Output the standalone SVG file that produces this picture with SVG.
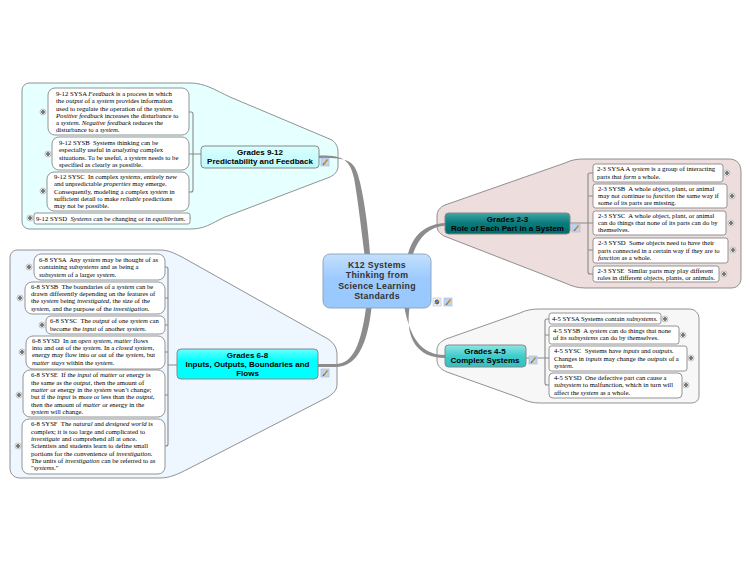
<svg xmlns="http://www.w3.org/2000/svg" xmlns:xlink="http://www.w3.org/1999/xlink" width="750" height="563" viewBox="0 0 750 563">
<style>
text{font-family:"Liberation Serif","Times New Roman",serif;font-size:6.7px;fill:#000;white-space:pre}
.i{font-style:italic}
.h{font-family:"Liberation Sans",Arial,sans-serif;font-size:8px;font-weight:bold;text-anchor:middle;fill:#000}
.c{font-family:"Liberation Sans",Arial,sans-serif;font-size:8.8px;font-weight:bold;text-anchor:middle;fill:#333;letter-spacing:.3px}
.b{stroke:#777;stroke-width:.8}
.n{fill:#fff;stroke:#888;stroke-width:.9}
.s{fill:none;stroke:#8a8a8a;stroke-width:1.1}
.m{fill:#8c8c8c}
.hn{stroke:#888;stroke-width:1}
</style>
<defs>
<linearGradient id="gc" x1="0" y1="0" x2="0" y2="1"><stop offset="0" stop-color="#c4e0fd"/><stop offset=".45" stop-color="#9ccaff"/><stop offset="1" stop-color="#98c8fc"/></linearGradient>
<linearGradient id="g9" x1="0" y1="0" x2="0" y2="1"><stop offset="0" stop-color="#d8ffff"/><stop offset="1" stop-color="#bdfafa"/></linearGradient>
<linearGradient id="g6" x1="0" y1="0" x2="0" y2="1"><stop offset="0" stop-color="#66ffff"/><stop offset=".4" stop-color="#00ffff"/><stop offset="1" stop-color="#00ffff"/></linearGradient>
<linearGradient id="g2" x1="0" y1="0" x2="0" y2="1"><stop offset="0" stop-color="#3fa5a5"/><stop offset=".5" stop-color="#0a7a7a"/><stop offset="1" stop-color="#006b6b"/></linearGradient>
<linearGradient id="g4" x1="0" y1="0" x2="0" y2="1"><stop offset="0" stop-color="#8fe6e6"/><stop offset=".5" stop-color="#40cccc"/><stop offset="1" stop-color="#33bfbf"/></linearGradient>
<g id="plus"><circle r="3" fill="#fff" stroke="#999" stroke-width=".6"/><circle r="1.700" fill="#111"/><path d="M-1.100 0H1.100M0-1.100V1.100" stroke="#fff" stroke-width=".5"/></g>
<g id="note"><rect x="-4" y="-4" width="8" height="8" fill="#bcd6f2" stroke="#9db8d8" stroke-width=".6"/><path d="M-1.500 2.500L2.500-2.500" stroke="#c8862a" stroke-width="1.500"/><path d="M-2 3L-1.300 1.600" stroke="#333" stroke-width=".7"/></g>
<g id="link"><rect x="-4" y="-4" width="8" height="8" fill="#f3f3f3" stroke="#bbb" stroke-width=".6"/><circle r="2.400" fill="#2a6fc4"/><path d="M-2.600 1.800L2.400-2" stroke="#e0a020" stroke-width="1"/></g>
</defs>

<g id="boundaries">
<path class="b" fill="#e6ffff" d="M30 83H190C205 83 215 90 230 97L332 140C336 143 338 147 338 152V166C338 172 334 175 330 177L225 217C210 224 205 229 190 229H30C25 229 22 226 22 221V91C22 86 25 83 30 83Z"/>
<path class="b" fill="#eef7ff" d="M18 250H160C168 250 174 253 182 257L328 339C334 343 337 348 337 355V384C337 390 334 393 328 397L188 469C178 474 170 478 160 478H20C14 478 10 474 10 468V258C10 253 13 250 18 250Z"/>
<path class="b" fill="#eedddd" d="M583 159H729C737 159 741 164 741 172V278C741 284 737 288 731 288H585C577 288 572 286 565 283L444 236C439 233 437 230 437 226V216C437 211 440 207 445 205L565 163C571 160 577 159 583 159Z"/>
<path class="b" fill="#f7f7f7" d="M540 309H689C695 309 699 313 699 319V396C699 400 696 403 691 403H540C532 403 526 401 520 398L447 372C440 369 437 365 437 360V350C437 345 440 342 446 339L520 313C526 310 532 309 540 309Z"/>
</g>

<g id="connectors">
<path class="m" d="M319 155.500C343 155 350 160 354 178C358 200 362 235 364.500 254L370 254C368 228 364 195 358 175C353 158 343 158 319 158Z"/>
<path class="m" d="M570 222.200L445 223C428 224 414 232 408 254L413 254C419 236 430 227 445 225.500L570 224.500Z"/>
<path class="m" d="M318 364H337C353 363 361 344 366 308L371.500 308C367 347 356 366 337 367H318Z"/>
<path class="m" d="M404.500 308C410 336 420 355 445 355V358C417 358 405 338 409.500 308Z"/>
<path class="s" d="M189 112H191Q193 112 193 114V190Q193 192 191 192H189M189 154H201M190 218H191"/>
<path class="s" d="M165 267H166Q168 267 168 269V444Q168 446 166 446H165M165 298H168M165 325H168M165 352H168M165 395H168M168 365H177"/>
<path class="s" d="M593 173H590Q588 173 588 175V272Q588 274 590 274H593M588 196H593M570 223H593M588 250H593"/>
<path class="s" d="M549 319H547Q545 319 545 321V383Q545 385 547 385H549M545 335H549M526 358H549"/>
</g>

<g id="root">
<rect x="323" y="254" width="108" height="54" rx="7" fill="url(#gc)" stroke="#8ba0b8" stroke-width=".9"/>
<text class="c"><tspan x="377" y="268">K12 Systems</tspan><tspan x="377" y="278.300">Thinking from</tspan><tspan x="377" y="288.500">Science Learning</tspan><tspan x="377" y="298.800">Standards</tspan></text>
<use href="#link" x="437" y="302"/><use href="#note" x="448" y="302"/>
</g>

<g id="grades912">
<rect x="201" y="146" width="118" height="22" rx="3.500" fill="url(#g9)" class="hn"/>
<text class="h"><tspan x="260" y="155">Grades 9-12</tspan><tspan x="260" y="164">Predictability and Feedback</tspan></text>
<use href="#note" x="325" y="162"/>
</g>
<g id="s912a"><rect class="n" x="48" y="88" width="141" height="47" rx="7"/><use href="#plus" x="43" y="112"/>
<text x="56" y="95.500">9-12 SYSA <tspan class="i">Feedback</tspan> is a process in which</text>
<text x="56" y="103">the <tspan class="i">output</tspan> of a <tspan class="i">system</tspan> provides information</text>
<text x="56" y="110.500">used to regulate the operation of the <tspan class="i">system.</tspan></text>
<text x="56" y="117.500"><tspan class="i">Positive feedback</tspan> increases the disturbance to</text>
<text x="56" y="125">a <tspan class="i">system. Negative feedback</tspan> reduces the</text>
<text x="56" y="132">disturbance to a <tspan class="i">system.</tspan></text></g>
<g id="s912b"><rect class="n" x="52" y="137" width="137" height="33" rx="7"/><use href="#plus" x="48" y="154"/>
<text x="59" y="145">9-12 SYSB  Systems thinking can be</text>
<text x="59" y="152">especially useful in <tspan class="i">analyzing</tspan> complex</text>
<text x="59" y="159.500">situations. To be useful, a <tspan class="i">system</tspan> needs to be</text>
<text x="59" y="167">specified as clearly as possible.</text></g>
<g id="s912c"><rect class="n" x="47" y="172" width="142" height="39" rx="7"/><use href="#plus" x="43" y="191"/>
<text x="54" y="178.500">9-12 SYSC  In complex <tspan class="i">systems</tspan>, entirely new</text>
<text x="54" y="186">and unpredictable <tspan class="i">properties</tspan> may emerge.</text>
<text x="54" y="193.500">Consequently, modeling a complex <tspan class="i">system</tspan> in</text>
<text x="54" y="201">sufficient detail to make <tspan class="i">reliable</tspan> predictions</text>
<text x="54" y="208">may not be possible.</text></g>
<g id="s912d"><rect class="n" x="34" y="213" width="156" height="11" rx="2"/><use href="#plus" x="30" y="218"/>
<text x="36" y="220.500">9-12 SYSD  <tspan class="i">Systems</tspan> can be changing or in <tspan class="i">equilibrium.</tspan></text></g>

<g id="grades68">
<rect x="177" y="349" width="141" height="30" rx="4" fill="url(#g6)" class="hn"/>
<text class="h"><tspan x="247.500" y="358">Grades 6-8</tspan><tspan x="247.500" y="366.500">Inputs, Outputs, Boundaries and</tspan><tspan x="247.500" y="375.500">Flows</tspan></text>
<use href="#note" x="325" y="373"/>
</g>
<g id="s68a"><rect class="n" x="34" y="254" width="131" height="26" rx="7"/><use href="#plus" x="29" y="267"/>
<text x="39" y="261.500">6-8 SYSA  Any <tspan class="i">system</tspan> may be thought of as</text>
<text x="39" y="269">containing <tspan class="i">subsystems</tspan> and as being a</text>
<text x="39" y="276.500"><tspan class="i">subsystem</tspan> of a larger <tspan class="i">system.</tspan></text></g>
<g id="s68b"><rect class="n" x="25" y="282" width="140" height="32" rx="7"/><use href="#plus" x="20" y="298"/>
<text x="31" y="288.500">6-8 SYSB  The boundaries of a <tspan class="i">system</tspan> can be</text>
<text x="31" y="296">drawn differently depending on the features of</text>
<text x="31" y="303">the <tspan class="i">system</tspan> being <tspan class="i">investigated,</tspan> the size of the</text>
<text x="31" y="310.500"><tspan class="i">system</tspan>, and the purpose of the <tspan class="i">investigation.</tspan></text></g>
<g id="s68c"><rect class="n" x="46" y="316" width="119" height="18" rx="5"/><use href="#plus" x="42" y="325"/>
<text x="50" y="323">6-8 SYSC  The <tspan class="i">output</tspan> of one <tspan class="i">system</tspan> can</text>
<text x="50" y="330.500">become the <tspan class="i">input</tspan> of another <tspan class="i">system.</tspan></text></g>
<g id="s68d"><rect class="n" x="26" y="336" width="139" height="33" rx="7"/><use href="#plus" x="22" y="352"/>
<text x="32" y="342.500">6-8 SYSD  In an <tspan class="i">open system, matter</tspan> flows</text>
<text x="32" y="350">into and out of the <tspan class="i">system.</tspan> In a <tspan class="i">closed system,</tspan></text>
<text x="32" y="357">energy may flow into or out of the <tspan class="i">system</tspan>, but</text>
<text x="32" y="364.500"><tspan class="i">matter stays</tspan> within the <tspan class="i">system.</tspan></text></g>
<g id="s68e"><rect class="n" x="23" y="370" width="142" height="47" rx="7"/><use href="#plus" x="19" y="395"/>
<text x="31" y="377">6-8 SYSE  If the <tspan class="i">input</tspan> of <tspan class="i">matter</tspan> or energy is</text>
<text x="31" y="384.500">the same as the <tspan class="i">output,</tspan> then the amount of</text>
<text x="31" y="392"><tspan class="i">matter</tspan> or energy in the <tspan class="i">system</tspan> won’t change;</text>
<text x="31" y="399">but if the <tspan class="i">input</tspan> is more or less than the <tspan class="i">output,</tspan></text>
<text x="31" y="406.500">then the amount of <tspan class="i">matter</tspan> or energy in the</text>
<text x="31" y="414"><tspan class="i">system</tspan> will change.</text></g>
<g id="s68f"><rect class="n" x="22" y="419" width="143" height="55" rx="7"/><use href="#plus" x="18" y="446"/>
<text x="31" y="426">6-8 SYSF  The <tspan class="i">natural</tspan> and <tspan class="i">designed world</tspan> is</text>
<text x="31" y="433.500">complex; it is too large and complicated to</text>
<text x="31" y="441"><tspan class="i">investigate</tspan> and comprehend all at once.</text>
<text x="31" y="448">Scientists and students learn to define small</text>
<text x="31" y="455.500">portions for the convenience of <tspan class="i">investigation.</tspan></text>
<text x="31" y="463">The units of <tspan class="i">investigation</tspan> can be referred to as</text>
<text x="31" y="470">"<tspan class="i">systems.</tspan>"</text></g>

<g id="grades23">
<rect x="445" y="213" width="125" height="21" rx="3.500" fill="url(#g2)" class="hn"/>
<text class="h"><tspan x="507.500" y="221.500">Grades 2-3</tspan><tspan x="507.500" y="230.500">Role of Each Part in a System</tspan></text>
<use href="#note" x="576" y="228"/>
</g>
<g id="s23a"><rect class="n" x="593" y="164" width="130" height="18" rx="2.500"/><use href="#plus" x="727" y="173"/>
<text x="597" y="171">2-3 SYSA A <tspan class="i">system</tspan> is a group of interacting</text>
<text x="597" y="178.500">parts that <tspan class="i">form</tspan> a whole.</text></g>
<g id="s23b"><rect class="n" x="593" y="184" width="134" height="24" rx="2.500"/><use href="#plus" x="732" y="196"/>
<text x="598" y="190.500">2-3 SYSB  A whole object, plant, or animal</text>
<text x="598" y="198">may not continue to <tspan class="i">function</tspan> the same way if</text>
<text x="598" y="205">some of its parts are missing.</text></g>
<g id="s23c"><rect class="n" x="593" y="211" width="133" height="24" rx="2.500"/><use href="#plus" x="731" y="223"/>
<text x="598" y="218">2-3 SYSC  A whole object, plant, or animal</text>
<text x="598" y="225">can do things that none of its parts can do by</text>
<text x="598" y="232">themselves.</text></g>
<g id="s23d"><rect class="n" x="593" y="238" width="135" height="25" rx="2.500"/><use href="#plus" x="733" y="250"/>
<text x="598" y="245">2-3 SYSD  Some objects need to have their</text>
<text x="598" y="252.500">parts connected in a certain way if they are to</text>
<text x="598" y="260"><tspan class="i">function</tspan> as a whole.</text></g>
<g id="s23e"><rect class="n" x="593" y="266" width="126" height="16" rx="2.500"/><use href="#plus" x="724" y="274"/>
<text x="597.500" y="272.500">2-3 SYSE  Similar parts may play different</text>
<text x="597.500" y="279.500">roles in different objects, plants, or animals.</text></g>

<g id="grades45">
<rect x="445" y="345" width="81" height="22" rx="3.500" fill="url(#g4)" class="hn"/>
<text class="h"><tspan x="485" y="354">Grades 4-5</tspan><tspan x="485" y="363">Complex Systems</tspan></text>
<use href="#note" x="533" y="360"/>
</g>
<g id="s45a"><rect class="n" x="549" y="313" width="112" height="11" rx="2.500"/><use href="#plus" x="665" y="319"/>
<text x="552" y="321">4-5 SYSA Systems contain <tspan class="i">subsystems.</tspan></text></g>
<g id="s45b"><rect class="n" x="549" y="326" width="130" height="18" rx="2.500"/><use href="#plus" x="683" y="335"/>
<text x="553" y="332.500">4-5 SYSB  A <tspan class="i">system</tspan> can do things that none</text>
<text x="553" y="340">of its <tspan class="i">subsystems</tspan> can do by themselves.</text></g>
<g id="s45c"><rect class="n" x="549" y="346" width="138" height="25" rx="2.500"/><use href="#plus" x="691" y="358"/>
<text x="554" y="353">4-5 SYSC  Systems have <tspan class="i">inputs</tspan> and <tspan class="i">outputs.</tspan></text>
<text x="554" y="361">Changes in <tspan class="i">inputs</tspan> may change the <tspan class="i">outputs</tspan> of a</text>
<text x="554" y="368"><tspan class="i">system.</tspan></text></g>
<g id="s45d"><rect class="n" x="549" y="373" width="133" height="25" rx="4"/><use href="#plus" x="686" y="385"/>
<text x="554" y="379.500">4-5 SYSD  One defective part can cause a</text>
<text x="554" y="387"><tspan class="i">subsystem</tspan> to malfunction, which in turn will</text>
<text x="554" y="394.500">affect the <tspan class="i">system</tspan> as a whole.</text></g>
</svg>
